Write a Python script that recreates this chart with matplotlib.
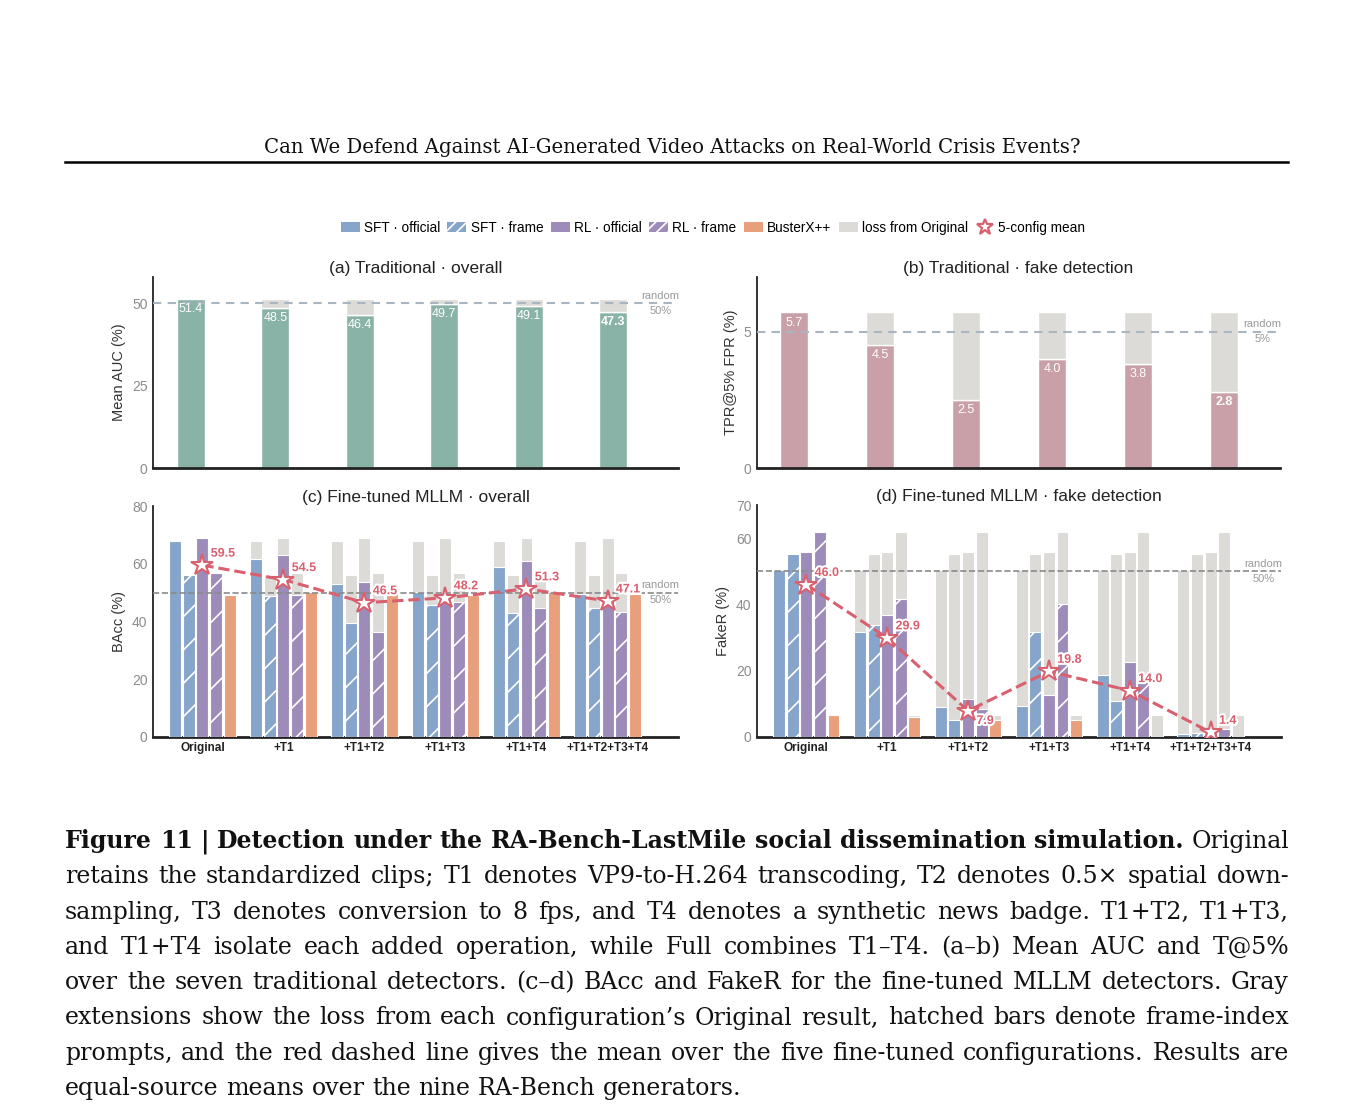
import numpy as np
import matplotlib
matplotlib.use("Agg")
import matplotlib.pyplot as plt
import matplotlib.patheffects as pe
from matplotlib.patches import Patch
from matplotlib.lines import Line2D

plt.rcParams["font.family"] = ["Liberation Sans", "DejaVu Sans"]
plt.rcParams["hatch.linewidth"] = 1.2

# ---------------- data ----------------
configs = ["Original", "+T1", "+T1+T2", "+T1+T3", "+T1+T4", "+T1+T2+T3+T4"]

trad_auc = [51.4, 48.5, 46.4, 49.7, 49.1, 47.3]
trad_tpr = [5.7, 4.5, 2.5, 4.0, 3.8, 2.8]

detectors = ["SFT · official", "SFT · frame", "RL · official", "RL · frame", "BusterX++"]

bacc_sft_official = [67.8, 61.7, 53.1, 50.1, 58.8, 49.4]
bacc_sft_frame = [56.1, 48.8, 39.6, 45.6, 42.9, 44.6]
bacc_rl_official = [68.9, 62.9, 53.8, 49.3, 60.8, 48.6]
bacc_rl_frame = [56.9, 49.3, 36.3, 46.7, 44.8, 43.3]
bacc_busterx = [49.3, 50.3, 49.6, 49.3, 50.2, 49.6]
bacc_mean = [59.5, 54.5, 46.5, 48.2, 51.3, 47.1]

faker_sft_official = [50.4, 31.6, 9.1, 9.4, 18.7, 1.0]
faker_sft_frame = [55.3, 33.7, 5.0, 31.7, 10.9, 1.3]
faker_rl_official = [55.9, 36.7, 11.5, 12.7, 22.7, 2.2]
faker_rl_frame = [61.8, 41.5, 8.5, 40.0, 17.3, 2.5]
faker_busterx = [6.6, 5.9, 5.0, 5.0, 0.0, 0.0]
faker_mean = [46.0, 29.9, 7.9, 19.8, 14.0, 1.4]

header = "Can We Defend Against AI-Generated Video Attacks on Real-World Crisis Events?"
caption_bold = "Figure 11 | Detection under the RA-Bench-LastMile social dissemination simulation."
caption_lines = [
    "Original",
    "retains the standardized clips; T1 denotes VP9-to-H.264 transcoding, T2 denotes 0.5\u00d7 spatial down-",
    "sampling, T3 denotes conversion to 8 fps, and T4 denotes a synthetic news badge. T1+T2, T1+T3,",
    "and T1+T4 isolate each added operation, while Full combines T1\u2013T4. (a\u2013b) Mean AUC and T@5%",
    "over the seven traditional detectors. (c\u2013d) BAcc and FakeR for the fine-tuned MLLM detectors. Gray",
    "extensions show the loss from each configuration\u2019s Original result, hatched bars denote frame-index",
    "prompts, and the red dashed line gives the mean over the five fine-tuned configurations. Results are",
    "equal-source means over the nine RA-Bench generators.",
]

# ---------------- styles ----------------
BLUE = "#87a5ca"
PURPLE = "#9d8cba"
ORANGE = "#e8a07c"
GRAY = "#dcdbd7"
TEAL = "#8ab3a8"
MAUVE = "#c9a0a8"
RED = "#d9606e"
det_colors = [BLUE, BLUE, PURPLE, PURPLE, ORANGE]
det_hatch = [None, "/", None, "/", None]
SERIF = "DejaVu Serif"

W, H = 1359, 1116
fig = plt.figure(figsize=(W / 100, H / 100), dpi=100)


def rect(l, t, r, b):
    return [l / W, 1 - b / H, (r - l) / W, (b - t) / H]


def style(ax, ylim, yticks, ylabel, title):
    ax.set_ylim(*ylim)
    ax.set_yticks(yticks)
    for s in ("top", "right"):
        ax.spines[s].set_visible(False)
    ax.spines["left"].set_color("#222")
    ax.spines["left"].set_linewidth(1.3)
    ax.spines["bottom"].set_color("#222")
    ax.spines["bottom"].set_linewidth(2)
    ax.tick_params(axis="y", length=0, labelcolor="#8c8c8c", labelsize=10, pad=4)
    ax.tick_params(axis="x", length=0)
    ax.set_ylabel(ylabel, fontsize=10.5, color="#333")
    ax.set_title(title, fontsize=12.5, color="#222", pad=3)


def ref_line(ax, y, color, ls, lw, pct):
    ax.axhline(y, color=color, ls=ls, lw=lw, zorder=4)
    tr = ax.get_yaxis_transform()
    ax.annotate("random", (0.967, y), xycoords=tr, xytext=(0, 2), textcoords="offset points",
                ha="center", va="bottom", fontsize=8, color="#999")
    ax.annotate(pct, (0.967, y), xycoords=tr, xytext=(0, -2), textcoords="offset points",
                ha="center", va="top", fontsize=8, color="#999")


def draw_trad(ax, vals, color, xlim):
    x = np.arange(len(vals))
    v = np.array(vals)
    loss = v[0] - v
    ax.bar(x, v, width=0.33, color=color, edgecolor="white", lw=1)
    ax.bar(x[1:], loss[1:], bottom=v[1:], width=0.33, color=GRAY, edgecolor="white", lw=1)
    for i, val in enumerate(vals):
        ax.annotate(f"{val:.1f}", (x[i], val), xytext=(0, -3), textcoords="offset points",
                    ha="center", va="top", color="white", fontsize=9,
                    fontweight="bold" if i == len(vals) - 1 else "normal", zorder=5)
    ax.set_xlim(*xlim)
    ax.set_xticks([])


def draw_mllm(ax, series, means, below=()):
    x = np.arange(len(configs))
    step, w = 0.168, 0.148
    for i, vals in enumerate(series):
        v = np.array(vals)
        xi = x + (i - 2) * step
        loss = v[0] - v
        m = loss > 0
        ax.bar(xi[m], loss[m], bottom=v[m], width=w, color=GRAY, edgecolor="white", lw=0.8, zorder=3)
        ax.bar(xi, v, width=w, color=det_colors[i], edgecolor="white", lw=0.8,
               hatch=det_hatch[i], zorder=3)
    ax.plot(x, means, ls="--", color=RED, lw=2.2, marker="*", ms=16, mfc="white",
            mec=RED, mew=1.5, zorder=6)
    for i, mv in enumerate(means):
        if i in below:
            off, va = (6, -3), "top"
        else:
            off, va = (6, 4), "bottom"
        ax.annotate(f"{mv:.1f}", (x[i], mv), xytext=off, textcoords="offset points",
                    ha="left", va=va, color=RED, fontsize=9, fontweight="bold", zorder=7,
                    path_effects=[pe.withStroke(linewidth=3, foreground="white")])
    ax.set_xlim(-0.61, 5.87)
    ax.set_xticks(x)
    ax.set_xticklabels(configs, fontsize=8.5, fontweight="bold", color="#222")
    ax.tick_params(axis="x", pad=3.5)


ax_a = fig.add_axes(rect(153, 277, 678, 468))
ax_b = fig.add_axes(rect(757, 277, 1280, 468))
ax_c = fig.add_axes(rect(153, 506, 678, 737))
ax_d = fig.add_axes(rect(757, 505, 1281, 737))

draw_trad(ax_a, trad_auc, TEAL, (-0.45, 5.77))
style(ax_a, (0, 58), [0, 25, 50], "Mean AUC (%)", "(a) Traditional \u00b7 overall")
ref_line(ax_a, 50, "#aab5c2", (0, (4, 3)), 1.5, "50%")

draw_trad(ax_b, trad_tpr, MAUVE, (-0.43, 5.65))
style(ax_b, (0, 7.0), [0, 5], "TPR@5% FPR (%)", "(b) Traditional \u00b7 fake detection")
ref_line(ax_b, 5, "#aab5c2", (0, (4, 3)), 1.5, "5%")

draw_mllm(ax_c, [bacc_sft_official, bacc_sft_frame, bacc_rl_official, bacc_rl_frame, bacc_busterx],
          bacc_mean)
style(ax_c, (0, 80), [0, 20, 40, 60, 80], "BAcc (%)", "(c) Fine-tuned MLLM \u00b7 overall")
ref_line(ax_c, 50, "#8a8a8a", "--", 1.2, "50%")

draw_mllm(ax_d, [faker_sft_official, faker_sft_frame, faker_rl_official, faker_rl_frame, faker_busterx],
          faker_mean, below=(2,))
style(ax_d, (0, 70), [0, 20, 40, 60, 70], "FakeR (%)", "(d) Fine-tuned MLLM \u00b7 fake detection")
ref_line(ax_d, 50, "#8a8a8a", "--", 1.2, "50%")

# legend
leg_hatch = [None, "///", None, "///", None]
handles = [Patch(facecolor=c, edgecolor="white", hatch=h, lw=0) for c, h in zip(det_colors, leg_hatch)]
handles += [Patch(facecolor=GRAY, edgecolor="white", lw=0),
            Line2D([], [], ls="none", marker="*", ms=12, mfc="white", mec=RED, mew=1.6)]
labels = detectors + ["loss from Original", "5-config mean"]
fig.legend(handles, labels, loc="center", bbox_to_anchor=(713 / W, 1 - 228 / H), ncol=7,
           frameon=False, fontsize=9.8, handlelength=1.4, handletextpad=0.3,
           columnspacing=0.55, handleheight=0.8, borderaxespad=0)

# ---------------- page header and caption ----------------
renderer = fig.canvas.get_renderer()


def width_px(s, size, weight="normal"):
    t = fig.text(0, 0, s, fontsize=size, fontweight=weight, family=SERIF)
    w = t.get_window_extent(renderer).width
    t.remove()
    return w


hsize = 14 * 819 / width_px(header, 14)
fig.text(672 / W, 1 - 153 / H, header, ha="center", va="baseline", family=SERIF,
         fontsize=hsize, color="#111")
fig.add_artist(Line2D([65 / W, 1288 / W], [1 - 162 / H] * 2, color="black", lw=1.8))

# words of each caption line with weight
lines = [[(wd, "bold") for wd in caption_bold.split()] + [(wd, "normal") for wd in caption_lines[0].split()]]
lines += [[(wd, "normal") for wd in ln.split()] for ln in caption_lines[1:]]

X0, X1 = 65, 1289
ref = 16.0
nat = []
for ln in lines[:-1]:
    tot = sum(width_px(wd, ref, wt) for wd, wt in ln) + (len(ln) - 1) * 0.2 * ref * 100 / 72
    nat.append(tot)
csize = min(17.0, ref * (X1 - X0) / max(nat))

for k, ln in enumerate(lines):
    y = 1 - (848 + 35.3 * k) / H
    texts = [fig.text(0, y, wd, fontsize=csize, fontweight=wt, family=SERIF, va="baseline",
                      ha="left", color="#111") for wd, wt in ln]
    ws = [t.get_window_extent(renderer).width for t in texts]
    if k < len(lines) - 1:
        gap = (X1 - X0 - sum(ws)) / (len(ws) - 1)
    else:
        gap = 0.318 * csize * 100 / 72
    xp = X0
    for t, w in zip(texts, ws):
        t.set_x(xp / W)
        xp += w + gap

fig.savefig("out.png", dpi=100)
